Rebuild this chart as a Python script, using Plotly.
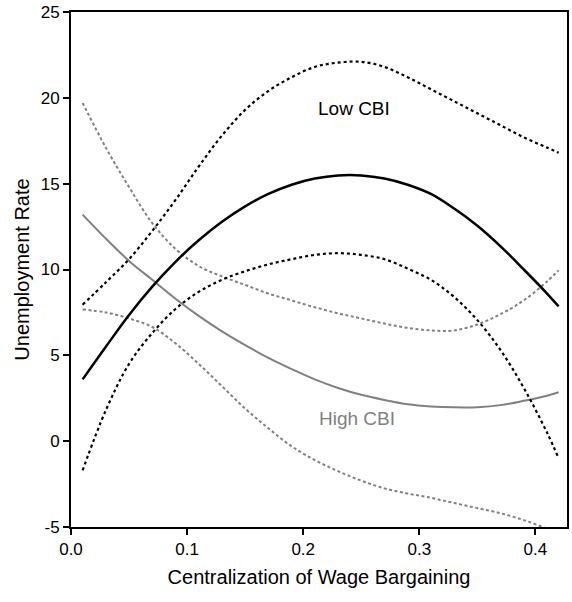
import plotly.graph_objects as go

x = [0.01, 0.03, 0.05, 0.07, 0.09, 0.11, 0.13, 0.15, 0.17, 0.19, 0.21,
     0.23, 0.25, 0.27, 0.29, 0.31, 0.33, 0.35, 0.37, 0.39, 0.41, 0.42]

low_est = [3.6, 5.5, 7.35, 9.0, 10.45, 11.7, 12.78, 13.68, 14.4, 14.94, 15.3,
           15.48, 15.48, 15.3, 14.94, 14.4, 13.55, 12.55, 11.35, 10.0, 8.6, 7.85]
low_hi = [7.95, 9.25, 10.6, 12.25, 14.05, 16.0, 17.8, 19.3, 20.4, 21.2, 21.8,
          22.05, 22.1, 21.8, 21.2, 20.5, 19.8, 19.1, 18.4, 17.7, 17.1, 16.8]
low_lo = [-1.7, 1.8, 4.5, 6.3, 7.7, 8.7, 9.4, 9.9, 10.3, 10.6, 10.85,
          10.95, 10.85, 10.6, 10.05, 9.4, 8.4, 7.05, 5.3, 3.1, 0.5, -1.0]

high_est = [13.2, 11.8, 10.5, 9.4, 8.3, 7.3, 6.4, 5.6, 4.85, 4.2, 3.6,
            3.1, 2.7, 2.4, 2.15, 2.02, 1.97, 1.98, 2.1, 2.35, 2.65, 2.85]
high_hi = [19.7, 17.1, 14.8, 12.7, 11.2, 10.2, 9.6, 9.1, 8.6, 8.2, 7.8,
           7.45, 7.15, 6.85, 6.6, 6.45, 6.45, 6.8, 7.4, 8.2, 9.3, 9.95]
high_lo = [7.67, 7.5, 7.15, 6.65, 5.7, 4.5, 3.2, 1.9, 0.75, -0.3, -1.1,
           -1.75, -2.3, -2.75, -3.05, -3.3, -3.6, -3.9, -4.2, -4.6, -5.1, -5.4]

x_ticks = [0.0, 0.1, 0.2, 0.3, 0.4]
x_tick_text = ["0.0", "0.1", "0.2", "0.3", "0.4"]
y_ticks = [-5, 0, 5, 10, 15, 20, 25]
y_tick_text = ["-5", "0", "5", "10", "15", "20", "25"]

BLACK = "#000000"
GRAY = "#808080"
FONT = "Liberation Sans, Arial, sans-serif"

fig = go.Figure()

def add(yv, color, width, dash):
    fig.add_trace(go.Scatter(
        x=x, y=yv, mode="lines",
        line=dict(color=color, width=width, dash=dash, shape="spline", smoothing=1.0),
        showlegend=False, hoverinfo="skip"))

add(high_hi, GRAY, 2, "3px,2.5px")
add(high_lo, GRAY, 2, "3px,2.5px")
add(high_est, GRAY, 2, "solid")
add(low_hi, BLACK, 2.2, "3px,3px")
add(low_lo, BLACK, 2.2, "3px,3px")
add(low_est, BLACK, 2.5, "solid")

fig.add_annotation(x=0.2435, y=19.4, text="Low CBI", showarrow=False,
                   font=dict(family=FONT, size=19, color=BLACK))
fig.add_annotation(x=0.246, y=1.3, text="High CBI", showarrow=False,
                   font=dict(family=FONT, size=19, color=GRAY))

axis_common = dict(
    showgrid=False, zeroline=False,
    showline=True, linecolor=BLACK, linewidth=2, mirror=True,
    ticks="outside", ticklen=6, tickwidth=1.5, tickcolor=BLACK,
    tickfont=dict(family=FONT, size=17, color=BLACK),
)

fig.update_layout(
    width=572, height=602,
    margin=dict(l=71, r=3, t=12, b=75),
    paper_bgcolor="white", plot_bgcolor="white",
    xaxis=dict(range=[0, 0.4272], tickvals=x_ticks, ticktext=x_tick_text,
               title=dict(text="Centralization of Wage Bargaining",
                          font=dict(family=FONT, size=20, color=BLACK), standoff=12),
               **axis_common),
    yaxis=dict(range=[-5, 25], tickvals=y_ticks, ticktext=y_tick_text,
               title=dict(text="Unemployment Rate",
                          font=dict(family=FONT, size=20, color=BLACK), standoff=6),
               **axis_common),
)

fig.write_html("out.html")
